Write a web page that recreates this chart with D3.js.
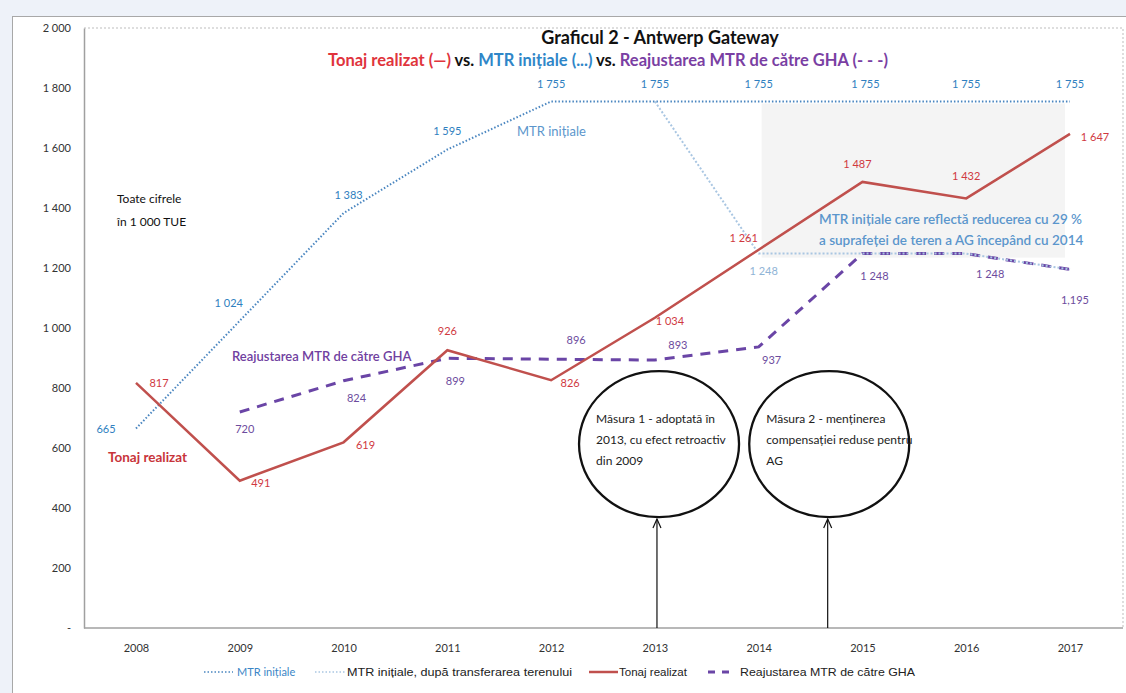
<!DOCTYPE html>
<html><head><meta charset="utf-8">
<script src="https://cdn.jsdelivr.net/npm/d3@7"></script>
<style>
html,body{margin:0;padding:0;background:#eef2f9;}
svg{display:block;font-family:Lato,"Open Sans",sans-serif;}
</style></head><body>
<svg id="chart" width="1126" height="693"></svg>
<script>
// ---------- data ----------
const years = [2008, 2009, 2010, 2011, 2012, 2013, 2014, 2015, 2016, 2017];
const mtrInitiale = [665, 1024, 1383, 1595, 1755, 1755, 1755, 1755, 1755, 1755];
const mtrDupaTransferYears = [2013, 2014, 2015, 2016, 2017];
const mtrDupaTransfer = [1755, 1248, 1248, 1248, 1195];
const tonajRealizat = [817, 491, 619, 926, 826, 1034, 1261, 1487, 1432, 1647];
const reajustareYears = [2009, 2010, 2011, 2012, 2013, 2014, 2015, 2016, 2017];
const reajustareGHA = [720, 824, 899, 896, 893, 937, 1248, 1248, 1195];
const reajustareLabels = ["720", "824", "899", "896", "893", "937", "1 248", "1 248", "1,195"];
const yTicks = [0, 200, 400, 600, 800, 1000, 1200, 1400, 1600, 1800, 2000];

// ---------- label offsets (layout only) ----------
const mtrOff = [[-30,0],[-11,-18],[5,-19],[0,-19],[0,-18],[0,-18],[0,-18],[3,-18],[0,-18],[0,-18]];
const tonajOff = [[23,0],[21,2],[22,2],[0,-20],[19,2],[15,3],[-15,-12],[-5,-18],[0,-23],[25,3]];
const reajOff = [[5,16],[13,17],[8,22],[25,-20],[23,-16],[13,13],[12,22],[24,20],[5,30]];

const C = {
  mtr: "#4a86c0", mtrTxt: "#2f7fc0", light: "#a9c6e2", lightTxt: "#8fb4d6",
  red: "#c0504d", redTxt: "#d0393f", purple: "#6a45a6", purpleTxt: "#6d4c9e"
};

const svg = d3.select("#chart");
const W = 1126, H = 693;
const plot = {left: 84, right: 1123, top: 28, bottom: 628};

// frame
svg.append("rect").attr("x", 0).attr("y", 0).attr("width", W).attr("height", H).attr("fill", "#eef2f9");
svg.append("rect").attr("x", 12.5).attr("y", 16.5).attr("width", 1130).attr("height", 700)
  .attr("fill", "#fff").attr("stroke", "#a8a8a8");

const x = d3.scaleLinear().domain([2008, 2017]).range([136, 1070]);
const y = d3.scaleLinear().domain([0, 2000]).range([plot.bottom, plot.top]);
const fmt = v => d3.format(",")(v).replace(/,/g, " ");

// plot border (dotted top/right)
svg.append("path").attr("d", `M${plot.left},${plot.top}H${plot.right}V${plot.bottom}`)
  .attr("fill", "none").attr("stroke", "#bdbdbd").attr("stroke-dasharray", "2,2");

// shaded region
svg.append("rect").attr("x", x(2014) + 3).attr("y", y(1755) + 2)
  .attr("width", x(2017) - x(2014) - 8).attr("height", y(1248) - y(1755) + 2)
  .attr("fill", "#f4f4f4");

// axes
const yAxis = d3.axisLeft(y).tickValues(yTicks).tickSize(0).tickPadding(13)
  .tickFormat(d => d === 0 ? "-" : fmt(d));
const gy = svg.append("g").attr("transform", `translate(${plot.left},0)`).call(yAxis);
gy.select(".domain").attr("stroke", "#a0a0a0").attr("stroke-width", 1.5);
gy.selectAll("text").attr("font-size", 11).attr("fill", "#333").attr("font-family", "Lato");

const xAxis = d3.axisBottom(x).tickValues(years).tickSize(0).tickPadding(16).tickFormat(d3.format("d"));
const gx = svg.append("g").attr("transform", `translate(0,${plot.bottom})`).call(xAxis);
gx.select(".domain").attr("d", `M${plot.left},0H${plot.right}`).attr("stroke", "#a0a0a0").attr("stroke-width", 1.5);
gx.selectAll("text").attr("font-size", 11).attr("fill", "#333").attr("font-family", "Lato");

// lines
const line = d3.line().x(d => x(d[0])).y(d => y(d[1]));
const mtrPts = years.map((yr, i) => [yr, mtrInitiale[i]]);
const lightPts = mtrDupaTransferYears.map((yr, i) => [yr, mtrDupaTransfer[i]]);
const redPts = years.map((yr, i) => [yr, tonajRealizat[i]]);
const purPts = reajustareYears.map((yr, i) => [yr, reajustareGHA[i]]);

svg.append("path").attr("d", line(purPts)).attr("fill", "none").attr("stroke", C.purple)
  .attr("stroke-width", 3).attr("stroke-dasharray", "10,8");
svg.append("path").attr("d", line(lightPts)).attr("fill", "none").attr("stroke", C.light)
  .attr("stroke-width", 2).attr("stroke-dasharray", "2,2");
svg.append("path").attr("d", line(mtrPts)).attr("fill", "none").attr("stroke", C.mtr)
  .attr("stroke-width", 2).attr("stroke-dasharray", "1.5,2");
svg.append("path").attr("d", line(redPts)).attr("fill", "none").attr("stroke", C.red)
  .attr("stroke-width", 2.5);

// data labels
function labels(pts, texts, offs, color) {
  svg.append("g").selectAll("text").data(pts).join("text")
    .attr("x", (d, i) => x(d[0]) + offs[i][0])
    .attr("y", (d, i) => y(d[1]) + offs[i][1])
    .attr("text-anchor", "middle").attr("dominant-baseline", "central")
    .attr("font-size", 11).attr("fill", color)
    .text((d, i) => texts[i]);
}
labels(mtrPts, mtrInitiale.map(fmt), mtrOff, C.mtrTxt);
labels(redPts, tonajRealizat.map(fmt), tonajOff, C.redTxt);
labels(purPts, reajustareLabels, reajOff, C.purpleTxt);
labels([lightPts[1]], [fmt(mtrDupaTransfer[1])], [[5, 17]], C.lightTxt);

// title
svg.append("text").attr("x", 660).attr("y", 44).attr("text-anchor", "middle")
  .attr("font-size", 18).attr("font-weight", "bold").attr("fill", "#111")
  .text("Graficul 2 - Antwerp Gateway");
const t2 = svg.append("text").attr("x", 608).attr("y", 66).attr("text-anchor", "middle")
  .attr("font-size", 16.5).attr("font-weight", "bold");
[["Tonaj realizat (—) ", "#e0343c"], ["vs. ", "#111"], ["MTR inițiale (...) ", "#2f86c8"],
 ["vs. ", "#111"], ["Reajustarea MTR de către GHA (- - -)", "#7a3fa3"]]
  .forEach(([s, c]) => t2.append("tspan").attr("fill", c).text(s));

// in-chart annotations
function textBlock(lines, x0, y0, lh, opts) {
  const t = svg.append("text").attr("x", x0).attr("y", y0)
    .attr("font-size", opts.size).attr("fill", opts.color)
    .attr("font-weight", opts.weight || "normal");
  lines.forEach((l, i) => t.append("tspan").attr("x", x0).attr("dy", i === 0 ? 0 : lh).text(l));
}
textBlock(["Toate cifrele", "în 1 000 TUE"], 117, 203, 23, {size: 12, color: "#111"});
textBlock(["MTR inițiale"], 517, 136, 0, {size: 13, color: "#5b96cc"});
textBlock(["Reajustarea MTR de către GHA"], 232, 361, 0, {size: 13, color: "#7040a0", weight: 600});
textBlock(["Tonaj realizat"], 108, 462, 0, {size: 13.5, color: "#c8343a", weight: "bold"});
textBlock(["MTR inițiale care reflectă reducerea cu 29 %", "a suprafeței de teren a AG începând cu 2014"],
  819, 224, 21, {size: 13.5, color: "#5b96cc", weight: 600});

// measures: ellipses + arrows
const measures = [
  {year: 2013.04, lines: ["Măsura 1 - adoptată în", "2013, cu efect retroactiv", "din 2009"], arrowYear: 2013.02},
  {year: 2014.68, lines: ["Măsura 2 - menținerea", "compensației reduse pentru", "AG"], arrowYear: 2014.665}
];
const ellCy = y(613), rx = 80, ry = 73;
measures.forEach(m => {
  svg.append("ellipse").attr("cx", x(m.year)).attr("cy", ellCy).attr("rx", rx).attr("ry", ry)
    .attr("fill", "none").attr("stroke", "#111").attr("stroke-width", 2.3);
  textBlock(m.lines, x(m.year) - 63, 423, 21, {size: 12, color: "#222"});
  const ax = x(m.arrowYear), top = ellCy + ry + 2;
  svg.append("line").attr("x1", ax).attr("x2", ax).attr("y1", plot.bottom).attr("y2", top)
    .attr("stroke", "#111").attr("stroke-width", 1.2);
  svg.append("path").attr("d", `M${ax - 4},${top + 9}L${ax},${top}L${ax + 4},${top + 9}`)
    .attr("fill", "none").attr("stroke", "#111").attr("stroke-width", 1.2);
});

// legend
const ly = 672;
const lg = svg.append("g").attr("font-size", 11.5);
lg.append("line").attr("x1", 204).attr("x2", 233).attr("y1", ly).attr("y2", ly)
  .attr("stroke", C.mtr).attr("stroke-width", 1.5).attr("stroke-dasharray", "1.5,2");
lg.append("text").attr("x", 237).attr("y", ly + 4).attr("fill", "#3b86c6").attr("font-size", 11).text("MTR inițiale");
lg.append("line").attr("x1", 315).attr("x2", 345).attr("y1", ly).attr("y2", ly)
  .attr("stroke", C.light).attr("stroke-width", 1.5).attr("stroke-dasharray", "1.5,2");
lg.append("text").attr("x", 347).attr("y", ly + 4).attr("fill", "#222").attr("font-family", "Liberation Sans")
  .attr("textLength", 225).attr("lengthAdjust", "spacingAndGlyphs").text("MTR inițiale, după transferarea terenului");
lg.append("line").attr("x1", 589).attr("x2", 618).attr("y1", ly).attr("y2", ly)
  .attr("stroke", C.red).attr("stroke-width", 2.5);
lg.append("text").attr("x", 619).attr("y", ly + 4).attr("fill", "#222").attr("font-family", "Liberation Sans")
  .attr("textLength", 68).attr("lengthAdjust", "spacingAndGlyphs").text("Tonaj realizat");
lg.append("line").attr("x1", 708).attr("x2", 734).attr("y1", ly).attr("y2", ly)
  .attr("stroke", C.purple).attr("stroke-width", 3).attr("stroke-dasharray", "7,7");
lg.append("text").attr("x", 740).attr("y", ly + 4).attr("fill", "#222").attr("font-family", "Liberation Sans")
  .attr("textLength", 175).attr("lengthAdjust", "spacingAndGlyphs").text("Reajustarea MTR de către GHA");
</script></body></html>
